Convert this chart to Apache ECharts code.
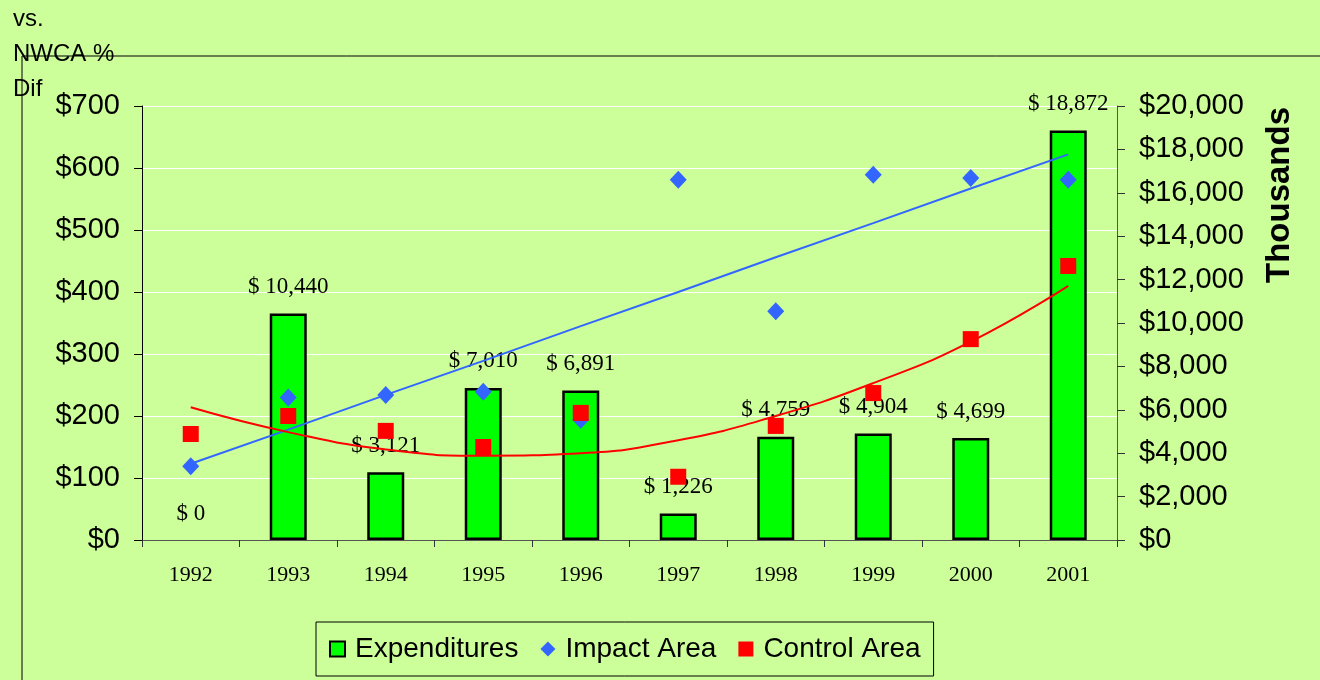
<!DOCTYPE html>
<html>
<head>
<meta charset="utf-8">
<style>
  html, body { margin: 0; padding: 0; background: #ccff99; }
  #chart { width: 1320px; height: 680px; }
</style>
<script src="https://cdn.jsdelivr.net/npm/echarts@6/dist/echarts.min.js"></script>
</head>
<body>
<div id="chart"></div>
<script>
// data
const years = ['1992', '1993', '1994', '1995', '1996', '1997', '1998', '1999', '2000', '2001']
const expenditures = [0, 10440, 3121, 7010, 6891, 1226, 4759, 4904, 4699, 18872] // thousands, right axis
const impactArea = [119, 230, 234, 239, 194, 581, 369, 589, 584, 581]
const controlArea = [171, 200, 176, 150, 205, 102, 184, 237, 324, 442]
// trend lines as seen in the picture
const impactTrend = [123, 178, 234, 289, 345, 400, 456, 511, 567, 622]
const controlTrend = [214, 174, 146, 136, 140, 161, 200, 253, 320, 410]

const sans = '"Liberation Sans", Arial, sans-serif'
const serif = '"Liberation Serif", "Times New Roman", serif'

const myChart = echarts.init(document.getElementById('chart'))

const fmtMoney = v => '$' + Number(v).toLocaleString('en-US')

// zero-height bar: no outline, only its label
const barData = expenditures.map(v => v === 0 ? { value: v, itemStyle: { borderWidth: 0 } } : v)

const options = {
  backgroundColor: '#ccff99',
  animation: false,
  grid: { left: 142, right: 203, top: 106, bottom: 140 },
  legend: {
    left: 316,
    top: 622,
    padding: [13, 13, 13, 13],
    borderColor: '#000',
    borderWidth: 1,
    itemGap: 22,
    itemWidth: 15,
    itemHeight: 15,
    textStyle: { fontFamily: sans, fontSize: 28, color: '#000', padding: [0, 0, 0, 5] },
    data: [
      { name: 'Expenditures', icon: 'rect' },
      { name: 'Impact Area', icon: 'diamond' },
      { name: 'Control Area', icon: 'rect' }
    ]
  },
  xAxis: {
    type: 'category',
    data: years,
    axisLine: { lineStyle: { color: '#555', width: 1 } },
    axisTick: { show: true, length: 7, lineStyle: { color: '#333' } },
    axisLabel: { fontFamily: serif, fontSize: 22, color: '#000', margin: 24 }
  },
  yAxis: [{
    type: 'value',
    min: 0,
    max: 700,
    interval: 100,
    axisLine: { show: true, lineStyle: { color: '#000' } },
    axisTick: { show: true, length: 8, lineStyle: { color: '#000' } },
    splitLine: { show: true, lineStyle: { color: '#ffffff', width: 1 } },
    axisLabel: { fontFamily: sans, fontSize: 29, color: '#000', margin: 22, formatter: v => '$' + v }
  }, {
    type: 'value',
    min: 0,
    max: 20000,
    interval: 2000,
    position: 'right',
    axisLine: { show: true, lineStyle: { color: '#555' } },
    axisTick: { show: true, length: 8, lineStyle: { color: '#333' } },
    splitLine: { show: false },
    axisLabel: { fontFamily: sans, fontSize: 29, color: '#000', margin: 22, formatter: fmtMoney }
  }],
  series: [{
    name: 'Expenditures',
    type: 'bar',
    yAxisIndex: 1,
    barWidth: 37,
    data: barData,
    itemStyle: { color: '#00ff00', borderColor: '#000', borderWidth: 2.5 },
    label: {
      show: true,
      position: 'top',
      distance: 15,
      fontFamily: serif,
      fontSize: 23,
      color: '#000',
      formatter: p => '$ ' + p.value.toLocaleString('en-US')
    },
    z: 1
  }, {
    name: 'impactTrend',
    type: 'line',
    data: impactTrend,
    symbol: 'none',
    lineStyle: { color: '#3366ff', width: 2 },
    z: 3
  }, {
    name: 'controlTrend',
    type: 'line',
    data: controlTrend,
    smooth: true,
    symbol: 'none',
    lineStyle: { color: '#ff0000', width: 2 },
    z: 3
  }, {
    name: 'Impact Area',
    type: 'scatter',
    data: impactArea,
    symbol: 'diamond',
    symbolSize: [17, 18],
    itemStyle: { color: '#3366ff', opacity: 1 },
    z: 4
  }, {
    name: 'Control Area',
    type: 'scatter',
    data: controlArea,
    symbol: 'rect',
    symbolSize: 16,
    itemStyle: { color: '#ff0000', opacity: 1 },
    z: 5
  }],
  graphic: [{
    type: 'line',
    shape: { x1: 22, y1: 56, x2: 1320, y2: 56 },
    style: { stroke: '#000', lineWidth: 1 },
    z: 0
  }, {
    type: 'line',
    shape: { x1: 22, y1: 56, x2: 22, y2: 680 },
    style: { stroke: '#000', lineWidth: 1 },
    z: 0
  }, {
    type: 'text',
    left: 13,
    top: 2,
    style: {
      text: 'vs.\nNWCA %\nDif',
      font: '24px ' + sans,
      fill: '#000',
      lineHeight: 35
    },
    z: 10
  }, {
    type: 'text',
    x: 1280,
    y: 195,
    rotation: Math.PI / 2,
    style: {
      text: 'Thousands',
      font: 'bold 33px ' + sans,
      fill: '#000',
      align: 'center',
      verticalAlign: 'middle'
    },
    z: 10
  }]
}

myChart.setOption(options)
</script>
</body>
</html>
